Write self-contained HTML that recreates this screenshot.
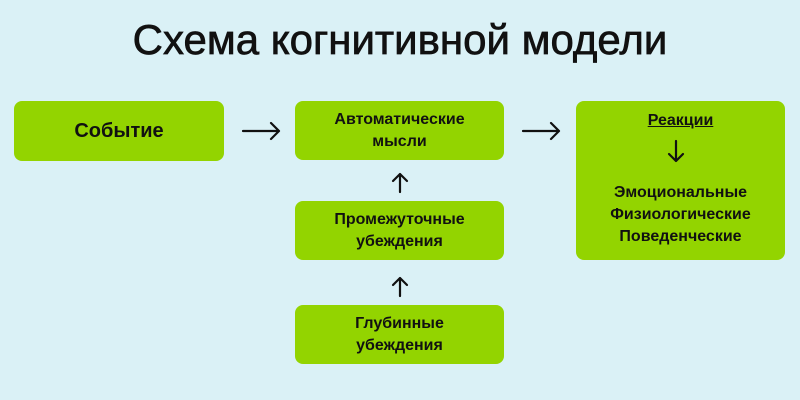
<!DOCTYPE html>
<html><head><meta charset="utf-8"><style>
body{margin:0;width:800px;height:400px;background:#daf1f6;font-family:"Liberation Sans",sans-serif;position:relative;overflow:hidden}
.t{position:absolute;left:0;width:800px;top:16px;text-align:center;font-size:42px;color:#111;-webkit-text-stroke:0.7px #111}
.b{position:absolute;background:#93d400;border-radius:8px;display:flex;flex-direction:column;align-items:center;justify-content:center;text-align:center;color:#111;font-weight:bold;font-size:16px;line-height:22px}
svg{position:absolute;left:0;top:0}
</style></head><body>
<div class="t">Схема когнитивной модели</div>
<div class="b" style="left:14px;top:101px;width:210px;height:60px;font-size:20px">Событие</div>
<div class="b" style="left:295px;top:101px;width:209px;height:59px;justify-content:flex-start;padding-top:8px;box-sizing:border-box">Автоматические<br>мысли</div>
<div class="b" style="left:295px;top:201px;width:209px;height:59px">Промежуточные<br>убеждения</div>
<div class="b" style="left:295px;top:305px;width:209px;height:59px">Глубинные<br>убеждения</div>
<div class="b" style="left:576px;top:101px;width:209px;height:159px;justify-content:flex-start;padding-top:9px;box-sizing:border-box"><span style="text-decoration:underline">Реакции</span><span style="display:block;height:50px"></span>Эмоциональные<br>Физиологические<br>Поведенческие</div>
<svg width="800" height="400" fill="none" stroke="#111" stroke-width="2.2" stroke-linecap="round" stroke-linejoin="round">
<path d="M243 131H279M271 123L279 131L271 139"/>
<path d="M523 131H559M551 123L559 131L551 139"/>
<path d="M400 192V174M393 181L400 174L407 181"/>
<path d="M400 296V278M393 285L400 278L407 285"/>
<path d="M676 141V161M669 154L676 161L683 154"/>
</svg>
</body></html>
